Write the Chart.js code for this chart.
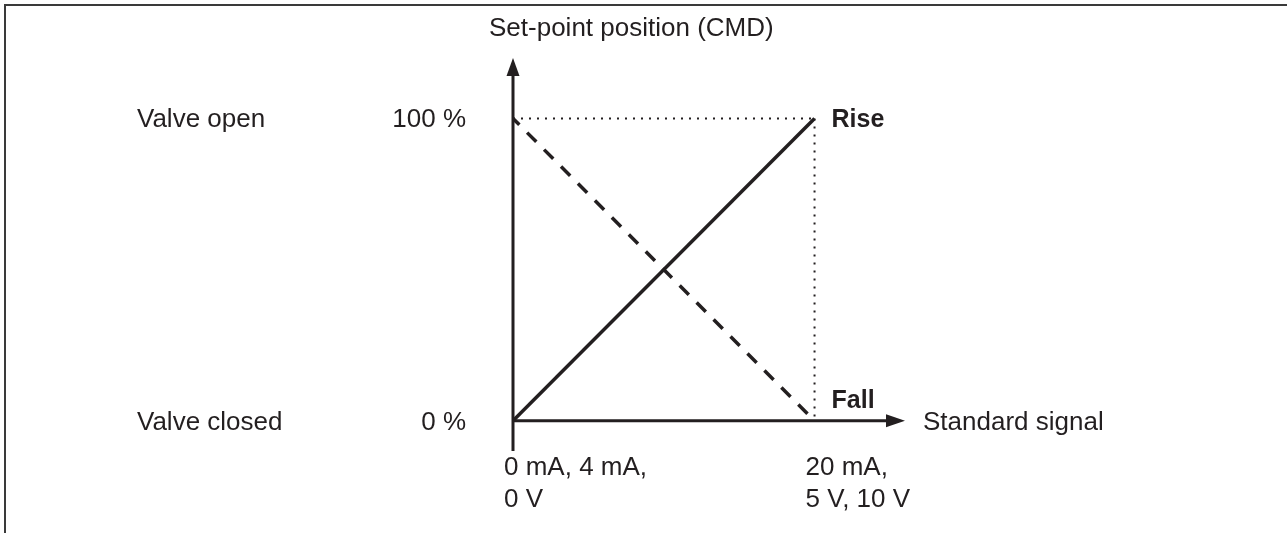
<!DOCTYPE html>
<html>
<head>
<meta charset="utf-8">
<script src="https://cdn.jsdelivr.net/npm/chart.js@4/dist/chart.umd.min.js"></script>
<style>
  html, body { margin: 0; padding: 0; background: #fff; }
  #wrap { position: relative; width: 1287px; height: 533px; }
</style>
</head>
<body>
<div id="wrap"><canvas id="cmdChart"></canvas></div>
<script>
// signal in % of the standard signal range, position in % of valve stroke
var signalPoints = [0, 100];
var riseValues = [0, 100];
var fallValues = [100, 0];
var positionTicks = [0, 100];
var positionTickLabels = ['0 %', '100 %'];
var positionStateLabels = ['Valve closed', 'Valve open'];
var signalTickLabels = [['0 mA, 4 mA,', '0 V'], ['20 mA,', '5 V, 10 V']];
var curveNames = ['Rise', 'Fall'];

var INK = '#231f20';
var FONT = '"Liberation Sans", Arial, Helvetica, sans-serif';

function pts(xs, ys) {
    return xs.map(function (x, i) { return { x: x, y: ys[i] }; });
}

var diagram = {
    id: 'diagram',
    afterDraw: function (chart) {
        var c = chart.ctx;
        var sx = chart.scales.x, sy = chart.scales.y;
        var x0 = sx.getPixelForValue(0), x1 = sx.getPixelForValue(100);
        var y0 = sy.getPixelForValue(0), y1 = sy.getPixelForValue(100);
        var xEnd = sx.getPixelForValue(sx.max);
        var yTop = sy.getPixelForValue(sy.max), yBot = sy.getPixelForValue(sy.min);

        c.save();
        // frame (top and left edge only)
        c.strokeStyle = '#3a3a3a';
        c.lineWidth = 2;
        c.beginPath();
        c.moveTo(5, chart.height);
        c.lineTo(5, 5);
        c.lineTo(chart.width, 5);
        c.stroke();

        // axes with arrow heads
        c.strokeStyle = INK;
        c.fillStyle = INK;
        c.lineWidth = 3;
        c.beginPath();
        c.moveTo(x0, yBot);
        c.lineTo(x0, yTop + 14);
        c.moveTo(x0, y0);
        c.lineTo(xEnd - 14, y0);
        c.stroke();
        c.beginPath();
        c.moveTo(x0, yTop);
        c.lineTo(x0 - 6.5, yTop + 18);
        c.lineTo(x0 + 6.5, yTop + 18);
        c.closePath();
        c.fill();
        c.beginPath();
        c.moveTo(xEnd, y0);
        c.lineTo(xEnd - 19, y0 - 6.5);
        c.lineTo(xEnd - 19, y0 + 6.5);
        c.closePath();
        c.fill();

        // texts
        c.font = '26px ' + FONT;
        c.textBaseline = 'alphabetic';
        c.textAlign = 'left';
        c.fillText('Set-point position (CMD)', x0 - 24, 36);
        c.fillText('Standard signal', xEnd + 18, y0 + 9);

        positionTicks.forEach(function (v, i) {
            var py = sy.getPixelForValue(v) + 9;
            c.textAlign = 'right';
            c.fillText(positionTickLabels[i], x0 - 47, py);
            c.textAlign = 'left';
            c.fillText(positionStateLabels[i], 137, py);
        });

        c.textAlign = 'left';
        signalPoints.forEach(function (v, i) {
            var px = sx.getPixelForValue(v) - 9;
            signalTickLabels[i].forEach(function (line, j) {
                c.fillText(line, px, y0 + 54 + j * 32);
            });
        });

        c.font = 'bold 25px ' + FONT;
        c.fillText(curveNames[0], x1 + 17, y1 + 9);
        c.fillText(curveNames[1], x1 + 17, y0 - 13);
        c.restore();
    }
};

var ctx = document.getElementById('cmdChart').getContext('2d');
var myChart = new Chart(ctx, {
    type: 'scatter',
    data: {
        datasets: [{
            label: 'Guide 100 %',
            data: pts([signalPoints[0], signalPoints[1]], [100, 100]),
            borderColor: INK,
            borderWidth: 2,
            borderDash: [2, 6]
        }, {
            label: 'Guide 20 mA',
            data: pts([signalPoints[1], signalPoints[1]], [100, 0]),
            borderColor: INK,
            borderWidth: 2,
            borderDash: [2, 6]
        }, {
            label: curveNames[1],
            data: pts(signalPoints, fallValues),
            borderColor: INK,
            borderWidth: 3.5,
            borderDash: [13, 11],
            borderDashOffset: 4
        }, {
            label: curveNames[0],
            data: pts(signalPoints, riseValues),
            borderColor: INK,
            borderWidth: 3.5
        }]
    },
    options: {
        responsive: true,
        maintainAspectRatio: false,
        animation: false,
        showLine: true,
        elements: { point: { radius: 0, hoverRadius: 0 } },
        layout: { padding: { left: 513, right: 382, top: 58, bottom: 82 } },
        scales: {
            x: { type: 'linear', min: 0, max: 130, display: false },
            y: { type: 'linear', min: -10, max: 120, display: false }
        },
        plugins: {
            legend: { display: false },
            tooltip: { enabled: false }
        }
    },
    plugins: [diagram]
});
</script>
</body>
</html>
